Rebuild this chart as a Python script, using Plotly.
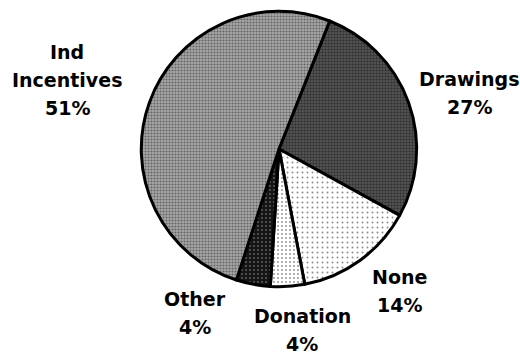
import plotly.graph_objects as go

categories = ["Drawings", "None", "Donation", "Other", "Ind Incentives"]
values = [27, 14, 4, 4, 51]
label_lines = {
    "Ind Incentives": ["Ind", "Incentives", "51%"],
    "Drawings": ["Drawings", "27%"],
    "None": ["None", "14%"],
    "Donation": ["Donation", "4%"],
    "Other": ["Other", "4%"],
}
bg_colors = ["#5a5a5a", "#ffffff", "#ffffff", "#151515", "#a8a8a8"]
fg_colors = ["#0a0a0a", "#1a1a1a", "#1a1a1a", "#b0b0b0", "#202020"]
pattern_sizes = [3, 5, 4, 4, 3]
pattern_solidity = [0.5, 0.12, 0.16, 0.18, 0.4]

fig = go.Figure(go.Pie(
    labels=categories,
    values=values,
    sort=False,
    direction="clockwise",
    rotation=21.6,
    textinfo="none",
    hoverinfo="label+percent",
    marker=dict(
        colors=bg_colors,
        line=dict(color="black", width=3),
        pattern=dict(shape=".", fgcolor=fg_colors, bgcolor=bg_colors,
                     size=pattern_sizes, solidity=pattern_solidity,
                     fillmode="overlay"),
    ),
    domain=dict(x=[0.27, 0.803], y=[0.19, 0.968]),
    showlegend=False,
))

# label anchor points (pixels from top-left) for the first line of each label
label_pos = {
    "Ind Incentives": (67, 52),
    "Drawings": (469, 79),
    "None": (399, 277),
    "Donation": (302, 316),
    "Other": (195, 299),
}
line_gap = 28
W, H = 520, 354
for cat, lines in label_lines.items():
    x0, y0 = label_pos[cat]
    for i, txt in enumerate(lines):
        y = y0 + i * line_gap
        fig.add_annotation(
            x=x0 / W, y=1 - y / H, xref="paper", yref="paper",
            text=f"<b>{txt}</b>", showarrow=False,
            xanchor="center", yanchor="middle",
            font=dict(family="DejaVu Sans", size=19, color="black"),
        )

fig.update_layout(
    width=W, height=H,
    margin=dict(l=0, r=0, t=0, b=0),
    paper_bgcolor="white",
    plot_bgcolor="white",
)
fig.write_html("out.html")
